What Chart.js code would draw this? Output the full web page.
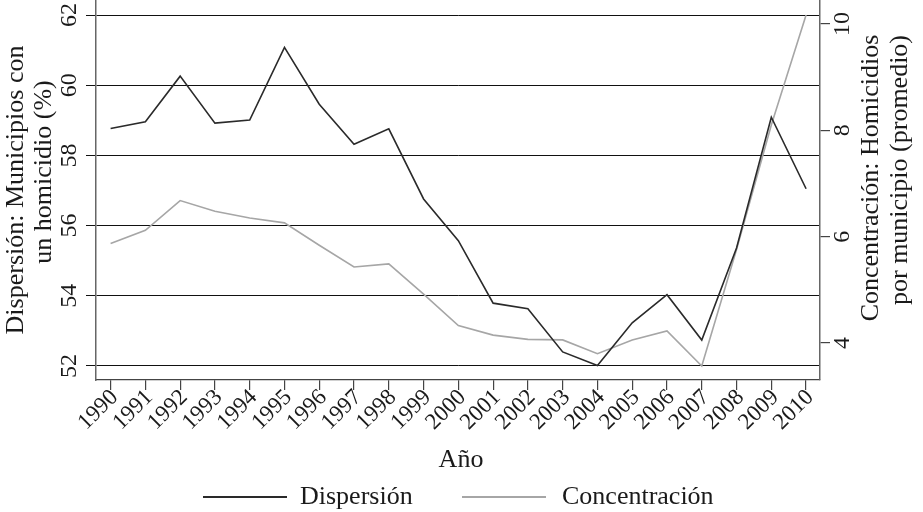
<!DOCTYPE html>
<html>
<head>
<meta charset="utf-8">
<script src="https://cdn.jsdelivr.net/npm/chart.js@4.4.1/dist/chart.umd.min.js"></script>
<style>
  html, body { margin: 0; padding: 0; background: #fff; }
  #wrap { width: 923px; height: 512px; position: relative; }
</style>
</head>
<body>
<div id="wrap"><canvas id="chart"></canvas></div>
<script>
// Data
const years = [1990, 1991, 1992, 1993, 1994, 1995, 1996, 1997, 1998, 1999, 2000,
               2001, 2002, 2003, 2004, 2005, 2006, 2007, 2008, 2009, 2010];
const dispersion = [58.77, 58.96, 60.26, 58.92, 59.01, 61.08, 59.46, 58.32, 58.76, 56.76, 55.57,
                    53.79, 53.63, 52.40, 52.01, 53.23, 54.03, 52.74, 55.36, 59.09, 57.05];
const concentration = [5.87, 6.12, 6.68, 6.48, 6.35, 6.26, 5.84, 5.43, 5.49, 4.92, 4.33,
                       4.15, 4.07, 4.06, 3.80, 4.06, 4.23, 3.57, 5.76, 8.10, 10.17];
const leftTicks = [52, 54, 56, 58, 60, 62];
const rightTicks = [4, 6, 8, 10];
const leftTitle = ['Dispersión: Municipios con', 'un homicidio (%)'];
const rightTitle = ['Concentración: Homicidios', 'por municipio (promedio)'];
const xTitle = 'Año';

const FONT = '"Liberation Serif", "Times New Roman", serif';
const TEXT = '#1a1a1a';
const DARK = '#2a2a2a';
const GREY = '#a6a6a6';

// Vertical tick labels, axis titles and legend
const decorations = {
    id: 'decorations',
    afterDraw(chart) {
        const ctx = chart.ctx;
        const yl = chart.scales.yLeft;
        const yr = chart.scales.yRight;
        ctx.save();
        ctx.fillStyle = TEXT;
        ctx.textAlign = 'center';
        ctx.textBaseline = 'middle';

        ctx.font = '24px ' + FONT;
        yl.ticks.forEach(t => {
            ctx.save();
            ctx.translate(70, yl.getPixelForValue(t.value));
            ctx.rotate(-Math.PI / 2);
            ctx.fillText(String(t.value), 0, 0);
            ctx.restore();
        });
        yr.ticks.forEach(t => {
            ctx.save();
            ctx.translate(843, yr.getPixelForValue(t.value));
            ctx.rotate(-Math.PI / 2);
            ctx.fillText(String(t.value), 0, 0);
            ctx.restore();
        });

        ctx.font = '26px ' + FONT;
        const titleLine = (text, x, y) => {
            ctx.save();
            ctx.translate(x, y);
            ctx.rotate(-Math.PI / 2);
            ctx.fillText(text, 0, 0);
            ctx.restore();
        };
        titleLine(leftTitle[0], 16, 190);
        titleLine(leftTitle[1], 44, 172);
        titleLine(rightTitle[0], 871, 178);
        titleLine(rightTitle[1], 900, 170);

        ctx.fillText(xTitle, 461, 460);

        // legend
        const items = chart.data.datasets;
        const pos = [[203, 287, 300], [462, 546, 562]];
        items.forEach((ds, i) => {
            const [x0, x1, tx] = pos[i];
            ctx.strokeStyle = ds.borderColor;
            ctx.lineWidth = 2;
            ctx.beginPath();
            ctx.moveTo(x0, 497);
            ctx.lineTo(x1, 497);
            ctx.stroke();
            ctx.textAlign = 'left';
            ctx.fillText(ds.label, tx, 497);
        });
        ctx.restore();
    }
};

const ctx = document.getElementById('chart').getContext('2d');
new Chart(ctx, {
    type: 'line',
    data: {
        datasets: [{
            label: 'Dispersión',
            data: years.map((yr, i) => ({ x: yr, y: dispersion[i] })),
            yAxisID: 'yLeft',
            borderColor: DARK,
            borderWidth: 1.6,
            pointRadius: 0,
            tension: 0
        }, {
            label: 'Concentración',
            data: years.map((yr, i) => ({ x: yr, y: concentration[i] })),
            yAxisID: 'yRight',
            borderColor: GREY,
            borderWidth: 1.6,
            pointRadius: 0,
            tension: 0
        }]
    },
    options: {
        responsive: true,
        maintainAspectRatio: false,
        animation: false,
        layout: { padding: 0 },
        plugins: {
            legend: { display: false },
            tooltip: { enabled: false }
        },
        scales: {
            x: {
                type: 'linear',
                min: 1989.58,
                max: 2010.4,
                afterBuildTicks: s => { s.ticks = years.map(v => ({ value: v })); },
                afterFit: s => { s.height = 132; },
                grid: { drawOnChartArea: false, drawTicks: true, tickLength: 10, color: '#444', lineWidth: 1.2 },
                border: { color: '#444', width: 1.2 },
                ticks: {
                    minRotation: 45,
                    maxRotation: 45,
                    autoSkip: false,
                    padding: -6,
                    labelOffset: 4,
                    color: TEXT,
                    font: { family: FONT, size: 23 },
                    callback: v => String(v)
                }
            },
            yLeft: {
                type: 'linear',
                position: 'left',
                min: 51.6,
                max: 62.43,
                afterBuildTicks: s => { s.ticks = leftTicks.map(v => ({ value: v })); },
                afterFit: s => { s.width = 96; },
                grid: { color: '#111', lineWidth: 1, drawTicks: true, tickLength: 10 },
                border: { color: '#666', width: 1.5 },
                ticks: { display: false }
            },
            yRight: {
                type: 'linear',
                position: 'right',
                min: 3.306,
                max: 10.45,
                afterBuildTicks: s => { s.ticks = rightTicks.map(v => ({ value: v })); },
                afterFit: s => { s.width = 103; },
                grid: { drawOnChartArea: false, drawTicks: true, tickLength: 10, color: '#444', lineWidth: 1.2 },
                border: { color: '#666', width: 1.5 },
                ticks: { display: false }
            }
        }
    },
    plugins: [decorations]
});
</script>
</body>
</html>
